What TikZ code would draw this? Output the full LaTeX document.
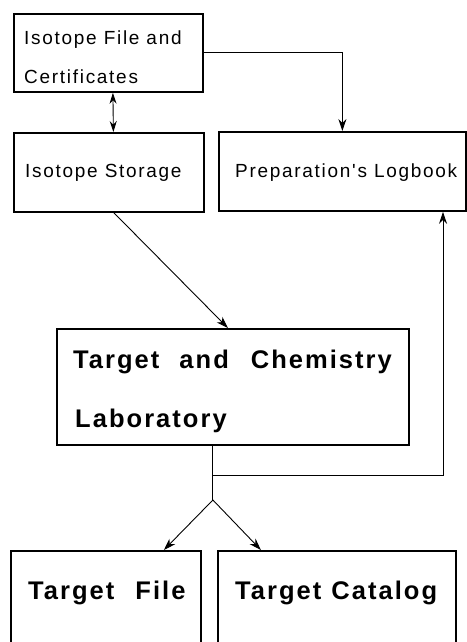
\documentclass[tikz,border=0pt]{standalone}
\usepackage{fontspec}
\setmainfont{Liberation Sans}
\newfontfamily\plotfont[LetterSpace=9]{Liberation Sans}
\newfontfamily\boldfont[LetterSpace=8]{Liberation Sans Bold}
\usetikzlibrary{arrows.meta}
\tikzset{
  box/.style={draw, line width=1.8pt, rectangle, anchor=north west, inner sep=0pt},
  lighttext/.style={anchor=base west, inner sep=0pt, font=\plotfont\fontsize{19}{22}\selectfont},
  heavytext/.style={anchor=base west, inner sep=0pt, font=\boldfont\fontsize{25.5}{29}\selectfont},
  conn/.style={line width=0.9pt},
  arr/.style={conn, -{Stealth[length=12pt,width=8pt]}},
  dblarr/.style={conn, {Stealth[length=11pt,width=7pt]}-{Stealth[length=11pt,width=7pt]}}
}
\begin{document}
\begin{tikzpicture}[x=1pt,y=-1pt]
\useasboundingbox (0,0) rectangle (466,642);
% boxes
\node[box, minimum width=189pt, minimum height=78pt] (iso) at (13,13) {};
\node[box, minimum width=190pt, minimum height=79pt] (sto) at (13,132) {};
\node[box, minimum width=247pt, minimum height=79pt] (log) at (218,131) {};
\node[box, minimum width=352pt, minimum height=116pt] (lab) at (56,328) {};
\node[box, minimum width=190pt, minimum height=110pt] (tfile) at (10,550) {};
\node[box, minimum width=238pt, minimum height=110pt] (tcat) at (217,550) {};
% texts
\node[lighttext] (t1) at (24,45) {Isotope File and};
\node[lighttext] (t2) at (24,83) {Certificates};
\node[lighttext] (t3) at (25,177) {Isotope Storage};
\node[lighttext] (t4) at (235,177) {Preparation's Logbook};
\node[heavytext] (t5) at (73,368) {Target\hspace{20pt}and\hspace{22pt}Chemistry};
\node[heavytext] (t6) at (75,427) {Laboratory};
\node[heavytext] (t7) at (28,599) {Target\hspace{21pt}File};
\node[heavytext] (t8) at (235,599) {Target\hspace{10pt}Catalog};
% connectors
\draw[arr] (iso.east) -| (log.north);
\draw[dblarr] ([xshift=4.5pt]iso.south) -- ([xshift=4.5pt]sto.north);
\draw[arr] ([xshift=5pt]sto.south) -- ([xshift=-5pt]lab.north);
\coordinate (labout) at ([xshift=-20pt]lab.south);
\coordinate (junc) at (labout |- 0,475);
\coordinate (split) at (labout |- 0,500);
\draw[conn] (labout) -- (split);
\draw[arr] (junc) -| (log.south -| 443,0);
\draw[arr] (split) -- ([xshift=58pt]tfile.north);
\draw[arr] (split) -- ([xshift=-76pt]tcat.north);
\end{tikzpicture}
\end{document}
